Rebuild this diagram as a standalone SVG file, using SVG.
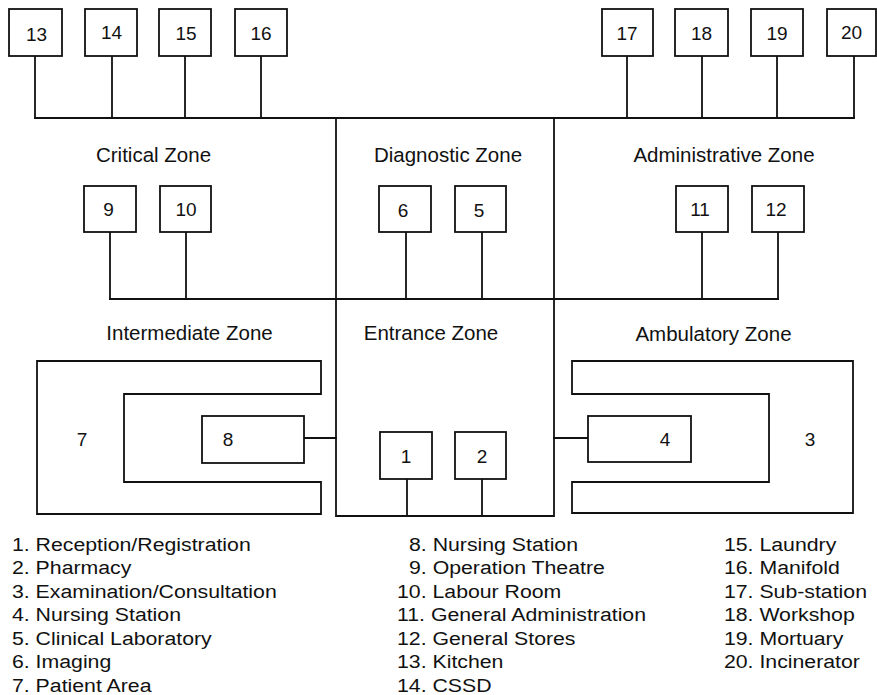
<svg xmlns="http://www.w3.org/2000/svg" width="877" height="695" viewBox="0 0 877 695">
  <style>
    .box { fill: #fff; stroke: #111; stroke-width: 1.8; }
    .wire { fill: none; stroke: #111; stroke-width: 1.8; stroke-linecap: square; }
    .num { font-family: "Liberation Sans", Arial, sans-serif; font-size: 19px; fill: #111; text-anchor: middle; }
    .zone { font-family: "Liberation Sans", Arial, sans-serif; font-size: 20.5px; fill: #111; text-anchor: middle; }
    .key { font-family: "Liberation Sans", Arial, sans-serif; font-size: 19px; fill: #111; }
  </style>
  <rect width="877" height="695" fill="#fff"/>

  <!-- connectors -->
  <g id="connectors" class="wire">
    <!-- service bus along the top -->
    <path d="M35,118 H854"/>
    <path d="M35,56 V118 M112,56 V118 M185,56 V118 M261,56 V118"/>
    <path d="M627,56 V118 M702,56 V118 M777,56 V118 M854,56 V118"/>
    <!-- middle bus -->
    <path d="M110,299 H778"/>
    <path d="M110,232 V299 M186,232 V299"/>
    <path d="M406,232 V299 M482,232 V299"/>
    <path d="M702,232 V299 M778,232 V299"/>
    <!-- entrance block outline -->
    <path d="M336,118 V516 H554 V118"/>
    <path d="M407,479 V516 M482,479 V516"/>
    <!-- nursing station links -->
    <path d="M304,438 H336"/>
    <path d="M554,438 H588"/>
  </g>

  <!-- zone labels -->
  <g id="zones">
    <text class="zone" x="153.5" y="162">Critical Zone</text>
    <text class="zone" x="448" y="162">Diagnostic Zone</text>
    <text class="zone" x="724" y="162">Administrative Zone</text>
    <text class="zone" x="189.5" y="340">Intermediate Zone</text>
    <text class="zone" x="431" y="340">Entrance Zone</text>
    <text class="zone" x="713.5" y="341">Ambulatory Zone</text>
  </g>

  <!-- service boxes -->
  <g id="n13"><rect class="box" x="9" y="9" width="53" height="47"/><text class="num" x="36.5" y="41">13</text></g>
  <g id="n14"><rect class="box" x="85" y="9" width="52" height="47"/><text class="num" x="111.5" y="38.5">14</text></g>
  <g id="n15"><rect class="box" x="159" y="9" width="52" height="47"/><text class="num" x="186" y="40">15</text></g>
  <g id="n16"><rect class="box" x="235" y="9" width="52" height="47"/><text class="num" x="261" y="40">16</text></g>
  <g id="n17"><rect class="box" x="602" y="9" width="51" height="47"/><text class="num" x="627" y="40">17</text></g>
  <g id="n18"><rect class="box" x="675" y="9" width="53" height="47"/><text class="num" x="701.5" y="40">18</text></g>
  <g id="n19"><rect class="box" x="751" y="9" width="52" height="47"/><text class="num" x="777" y="40">19</text></g>
  <g id="n20"><rect class="box" x="827" y="9" width="49" height="47"/><text class="num" x="851.5" y="38.5">20</text></g>

  <!-- zone rooms -->
  <g id="n9"><rect class="box" x="84" y="186" width="52" height="46"/><text class="num" x="108.5" y="216">9</text></g>
  <g id="n10"><rect class="box" x="160" y="186" width="51" height="46"/><text class="num" x="186" y="216">10</text></g>
  <g id="n6"><rect class="box" x="379" y="186" width="52" height="46"/><text class="num" x="403" y="217">6</text></g>
  <g id="n5"><rect class="box" x="455" y="186" width="51" height="46"/><text class="num" x="479" y="217">5</text></g>
  <g id="n11"><rect class="box" x="676" y="186" width="52" height="46"/><text class="num" x="700" y="215.5">11</text></g>
  <g id="n12"><rect class="box" x="752" y="186" width="52" height="46"/><text class="num" x="776" y="216">12</text></g>
  <g id="n1"><rect class="box" x="380" y="432" width="52" height="47"/><text class="num" x="406" y="463">1</text></g>
  <g id="n2"><rect class="box" x="455" y="432" width="51" height="47"/><text class="num" x="482" y="463">2</text></g>

  <!-- patient area (left) with nursing station -->
  <g id="n7">
    <path class="box" d="M321,361 H37 V514 H321 V482 H124 V394 H321 Z"/>
    <text class="num" x="82" y="445.5">7</text>
  </g>
  <g id="n8"><rect class="box" x="202" y="416" width="102" height="47"/><text class="num" x="228" y="445.5">8</text></g>

  <!-- examination area (right) with nursing station -->
  <g id="n3">
    <path class="box" d="M572,361 H853 V513 H572 V482 H769 V394 H572 Z"/>
    <text class="num" x="810" y="445.5">3</text>
  </g>
  <g id="n4"><rect class="box" x="588" y="416" width="103" height="46"/><text class="num" x="665" y="445.5">4</text></g>

  <!-- key -->
  <g id="legend" class="key" transform="scale(1.12 1)">
    <text x="10.7" y="551">1. Reception/Registration</text>
    <text x="10.7" y="574.5">2. Pharmacy</text>
    <text x="10.7" y="598">3. Examination/Consultation</text>
    <text x="10.7" y="621.5">4. Nursing Station</text>
    <text x="10.7" y="645">5. Clinical Laboratory</text>
    <text x="10.7" y="668.5">6. Imaging</text>
    <text x="10.7" y="692">7. Patient Area</text>

    <text x="365.2" y="551">8. Nursing Station</text>
    <text x="365.2" y="574.5">9. Operation Theatre</text>
    <text x="354.5" y="598">10. Labour Room</text>
    <text x="354.5" y="621.5">11. General Administration</text>
    <text x="354.5" y="645">12. General Stores</text>
    <text x="354.5" y="668.5">13. Kitchen</text>
    <text x="354.5" y="692">14. CSSD</text>

    <text x="646.4" y="551">15. Laundry</text>
    <text x="646.4" y="574.5">16. Manifold</text>
    <text x="646.4" y="598">17. Sub-station</text>
    <text x="646.4" y="621.5">18. Workshop</text>
    <text x="646.4" y="645">19. Mortuary</text>
    <text x="646.4" y="668.5">20. Incinerator</text>
  </g>
</svg>
